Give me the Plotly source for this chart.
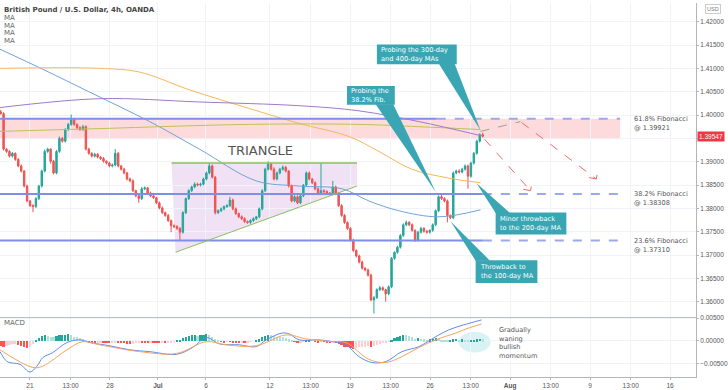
import plotly.graph_objects as go

# ---------------- data ----------------
# 4h closes (GBP/USD), first bar ~Jun 17, last bar Jul 29
closes = [
    1.4003, 1.3927, 1.3922, 1.3912, 1.3918, 1.3905, 1.3891, 1.3880, 1.3848, 1.3816,
    1.3806, 1.3804, 1.3821, 1.3848, 1.3880, 1.3922, 1.3927, 1.3901, 1.3876, 1.3922,
    1.3950, 1.3944, 1.3969, 1.3980, 1.3990, 1.3980, 1.3973, 1.3969, 1.3975, 1.3927,
    1.3918, 1.3912, 1.3916, 1.3910, 1.3907, 1.3901, 1.3897, 1.3891, 1.3893, 1.3918,
    1.3891, 1.3884, 1.3876, 1.3863, 1.3859, 1.3838, 1.3827, 1.3821, 1.3842, 1.3844,
    1.3833, 1.3827, 1.3823, 1.3812, 1.3801, 1.3791, 1.3785, 1.3774, 1.3763, 1.3761,
    1.3757, 1.3749, 1.3791, 1.3821, 1.3838, 1.3846, 1.3852, 1.3850, 1.3852, 1.3863,
    1.3876, 1.3891, 1.3867, 1.3791, 1.3795, 1.3799, 1.3804, 1.3806, 1.3818, 1.3799,
    1.3789, 1.3782, 1.3778, 1.3772, 1.3770, 1.3774, 1.3778, 1.3782, 1.3799, 1.3838,
    1.3884, 1.3895, 1.3884, 1.3863, 1.3876, 1.3884, 1.3888, 1.3880, 1.3848, 1.3816,
    1.3825, 1.3812, 1.3827, 1.3850, 1.3876, 1.3863, 1.3855, 1.3842, 1.3833, 1.3838,
    1.3836, 1.3833, 1.3831, 1.3846, 1.3833, 1.3806, 1.3785, 1.3770, 1.3757, 1.3732,
    1.3710, 1.3698, 1.3685, 1.3672, 1.3668, 1.3657, 1.3604, 1.3609, 1.3626, 1.3630,
    1.3626, 1.3617, 1.3632, 1.3693, 1.3706, 1.3717, 1.3742, 1.3765, 1.3770, 1.3765,
    1.3753, 1.3732, 1.3749, 1.3757, 1.3751, 1.3749, 1.3753, 1.3765, 1.3795, 1.3825,
    1.3821, 1.3816, 1.3785, 1.3780, 1.3876, 1.3880, 1.3878, 1.3884, 1.3891, 1.3869,
    1.3897, 1.3918, 1.3944, 1.3958, 1.39547,
]
first_open = 1.4007
# wick lengths in pips above / below the candle body
wick_up = [
    4, 3, 2, 3, 3, 2, 3, 3, 2, 3,   2, 3, 3, 2, 3, 4, 3, 2, 3, 3,
    4, 3, 3, 3, 11, 3, 2, 3, 4, 3,  3, 2, 3, 3, 2, 3, 2, 3, 3, 9,
    3, 2, 3, 2, 3, 3, 2, 3, 4, 3,   2, 3, 3, 2, 3, 3, 2, 3, 2, 3,
    3, 3, 3, 2, 3, 3, 4, 3, 3, 3,   3, 6, 3, 2, 3, 3, 2, 3, 7, 3,
    3, 2, 3, 3, 2, 3, 3, 2, 3, 3,   3, 6, 3, 4, 3, 3, 4, 3, 2, 3,
    3, 3, 3, 2, 3, 3, 2, 3, 3, 59,  3, 3, 2, 13, 3, 2, 3, 3, 2, 3,
    3, 2, 3, 3, 2, 3, 3, 3, 3, 4,   3, 2, 3, 3, 2, 3, 3, 3, 4, 3,
    3, 2, 3, 4, 3, 3, 2, 3, 3, 3,   4, 3, 3, 2, 3, 3, 4, 3, 3, 3,
    3, 3, 3, 3, 4,
]
wick_dn = [
    2, 3, 3, 3, 3, 3, 3, 3, 3, 3,   3, 12, 3, 3, 3, 3, 3, 5, 3, 3,
    3, 3, 3, 3, 3, 3, 3, 3, 3, 3,   3, 3, 3, 3, 3, 3, 3, 3, 3, 3,
    3, 3, 3, 3, 3, 3, 3, 9, 3, 3,   3, 3, 3, 3, 3, 3, 3, 3, 14, 3,
    3, 17, 3, 3, 3, 3, 3, 3, 3, 3,  3, 3, 3, 4, 3, 3, 3, 3, 3, 3,
    3, 3, 3, 3, 3, 3, 3, 3, 3, 3,   3, 3, 3, 3, 3, 3, 3, 3, 3, 3,
    3, 3, 3, 3, 3, 3, 3, 3, 3, 3,   3, 3, 3, 3, 3, 3, 3, 3, 3, 3,
    3, 3, 3, 3, 3, 3, 3, 29, 3, 3,  3, 17, 3, 3, 3, 3, 3, 3, 3, 3,
    3, 4, 3, 3, 3, 3, 3, 3, 3, 3,   3, 3, 15, 3, 3, 3, 3, 3, 3, 27,
    3, 3, 3, 3, 3,
]
macd_hist = [
    -0.0010, -0.0012, -0.0011, -0.0009, -0.0007, -0.0006, -0.0008, -0.0011, -0.0014, -0.0016,
    -0.0013, -0.0007, 0.0002, 0.0007, 0.0011, 0.0013, 0.0012, 0.0010, 0.0009, 0.0011,
    0.0013, 0.0014, 0.0014, 0.0015, 0.0013, 0.0010, 0.0008, 0.0006, 0.0004, 0.0001,
    -0.0002, -0.0004, -0.0005, -0.0004, -0.0003, -0.0003, -0.0004, -0.0005, -0.0004, -0.0002,
    -0.0002, -0.0004, -0.0005, -0.0006, -0.0007, -0.0006, -0.0004, -0.0002, -0.0002, -0.0003,
    -0.0004, -0.0003, -0.0004, -0.0005, -0.0005, -0.0004, -0.0005, -0.0004, -0.0002, -0.0001,
    0.0002, 0.0003, 0.0007, 0.0010, 0.0012, 0.0013, 0.0014, 0.0012, 0.0013, 0.0014,
    0.0015, 0.0013, 0.0008, 0.0004, 0.0001, -0.0001, -0.0002, -0.0001, -0.0001, -0.0002,
    -0.0003, -0.0004, -0.0003, -0.0003, -0.0002, -0.0001, 0.0000, 0.0001, 0.0004, 0.0008,
    0.0012, 0.0014, 0.0013, 0.0011, 0.0010, 0.0009, 0.0008, 0.0006, 0.0004, 0.0001,
    -0.0001, -0.0003, -0.0002, -0.0001, 0.0001, 0.0001, 0.0000, -0.0001, -0.0002, -0.0001,
    -0.0001, -0.0002, -0.0002, -0.0001, -0.0003, -0.0006, -0.0009, -0.0012, -0.0014, -0.0016,
    -0.0017, -0.0016, -0.0014, -0.0013, -0.0012, -0.0011, -0.0013, -0.0011, -0.0009, -0.0007,
    -0.0005, -0.0003, -0.0001, 0.0003, 0.0006, 0.0009, 0.0012, 0.0014, 0.0013, 0.0011,
    0.0008, 0.0005, 0.0006, 0.0005, 0.0004, 0.0003, 0.0004, 0.0005, 0.0006, 0.0005,
    0.0003, 0.0002, 0.0001, 0.0001, 0.0004, 0.0005, 0.0003, 0.0004, 0.0003, 0.0001,
    0.0002, 0.0003, 0.0004, 0.0005, 0.0004,
]
# bar timeline in trading days (0 = Mon Jun 21)
first_bar_day = -1.83
last_bar_day = 28.29

# MACD line / signal line (trading-day, value)
macd_days = [-1.87, -1.43, -0.62, 0, 0.44, 0.81, 1.43, 2.31, 3.12, 3.74, 4.98, 6.23, 7.48, 9.16,
             10.16, 11.03, 11.84, 13.08, 14.14, 14.77, 15.76, 16.20, 16.82, 18.07, 18.88, 19.75,
             20.56, 21.37, 22.24, 23.24, 24.30, 25.36, 26.17, 27.10, 28.22]
macd_vals = [-0.0024, -0.0046, -0.0052, -0.0069, -0.0056, -0.0037, -0.0026, -0.0004, 0.0002, -0.0004,
             -0.0011, -0.0020, -0.0024, -0.0030, -0.0015, 0.0007, -0.0007, -0.0009, -0.0013, 0.0002,
             0.0017, 0.0015, 0.0002, 0.0002, -0.0002, -0.0009, -0.0035, -0.0048, -0.0046, -0.0024,
             -0.0013, 0.0009, 0.0024, 0.0035, 0.0046]
signal_days = [-1.87, 0.19, 0.81, 2.31, 3.30, 4.36, 6.85, 9.16, 11.03, 12.27, 14.14, 16.01, 17.26,
               18.88, 19.75, 21.18, 22.24, 23.24, 24.30, 25.36, 26.60, 27.41, 28.22]
signal_vals = [-0.0020, -0.0059, -0.0056, -0.0020, -0.0002, -0.0009, -0.0024, -0.0028, -0.0002,
               -0.0009, -0.0011, 0.0013, 0.0004, -0.0002, -0.0004, -0.0041, -0.0048, -0.0035,
               -0.0015, 0.0002, 0.0017, 0.0028, 0.0037]

# moving averages (trading-day, price)
ma100_days = [-1.87, 0.93, 3.68, 7.48, 10.59, 14.14, 16.82, 19.50, 21.18, 23.05, 25.55, 28.16]
ma100_vals = [1.4141, 1.4096, 1.4050, 1.3986, 1.3927, 1.3859, 1.3848, 1.3842, 1.3816, 1.3795, 1.3782, 1.3797]
ma200_days = [-1.87, 4.36, 6.85, 9.97, 13.71, 16.82, 19.94, 21.81, 23.86, 26.17, 28.16]
ma200_vals = [1.4100, 1.4100, 1.4092, 1.4054, 1.4014, 1.3982, 1.3954, 1.3922, 1.3884, 1.3865, 1.3855]
ma300_days = [-1.87, 4.36, 13.71, 20.56, 24.30, 28.16]
ma300_vals = [1.3965, 1.3971, 1.3980, 1.3980, 1.3975, 1.3969]
ma400_days = [-1.87, 4.36, 10.59, 16.82, 20.56, 24.30, 28.16]
ma400_vals = [1.4016, 1.4035, 1.4028, 1.4020, 1.4009, 1.3986, 1.3956]

fib_levels = [1.39921, 1.38308, 1.37310]
fib_names = ["61.8% Fibonacci", "38.2% Fibonacci", "23.6% Fibonacci"]
zone_low = 1.3948
last_price = 1.39547

x_tick_days = [0, 2.54, 5, 8, 11, 15, 17.54, 20, 22.54, 25, 27.54, 30, 32.54, 35, 37.54, 40]
x_tick_text = ["21", "13:00", "28", "<b>Jul</b>", "6", "12", "13:00", "19", "13:00", "26",
               "13:00", "<b>Aug</b>", "13:00", "9", "13:00", "16"]
price_ticks = [1.36, 1.365, 1.37, 1.375, 1.38, 1.385, 1.39, 1.395, 1.40, 1.405, 1.41, 1.415, 1.42]
macd_ticks = [-0.005, 0.0, 0.005]

# ---------------- build ----------------
n = len(closes)
step = (last_bar_day - first_bar_day) / (n - 1)
bar_x = [first_bar_day + i * step for i in range(n)]
opens = [first_open] + closes[:-1]
highs = [max(o, c) + u * 1e-4 for o, c, u in zip(opens, closes, wick_up)]
lows = [min(o, c) - d * 1e-4 for o, c, d in zip(opens, closes, wick_dn)]

GREEN = "#26A69A"
RED = "#EF5350"
FIBC = "#7F8FE6"
TEAL = "#3AA6B4"

X0, X1 = -1.87, 41.62
Y0, Y1 = 1.3566, 1.4240
M0, M1 = -0.0080, 0.0051

fig = go.Figure()

fig.add_trace(go.Candlestick(
    x=bar_x, open=opens, high=highs, low=lows, close=closes,
    increasing=dict(line=dict(color=GREEN, width=1), fillcolor=GREEN),
    decreasing=dict(line=dict(color=RED, width=1), fillcolor=RED),
    whiskerwidth=0, xaxis="x", yaxis="y", hoverinfo="skip"))

for dd, vv, col in [(ma100_days, ma100_vals, "#6FA3D9"), (ma200_days, ma200_vals, "#F5B75A"),
                    (ma300_days, ma300_vals, "#B9C457"), (ma400_days, ma400_vals, "#A178C9")]:
    fig.add_trace(go.Scatter(x=dd, y=vv, mode="lines", line=dict(color=col, width=1, shape="spline"),
                             xaxis="x", yaxis="y", hoverinfo="skip"))

# MACD histogram colours (TradingView style: rising/falling)
hcols = []
for i, h in enumerate(macd_hist):
    prev = macd_hist[i - 1] if i > 0 else h
    if h >= 0:
        hcols.append("#26A69A" if h >= prev else "#B2DFDB")
    else:
        hcols.append("#FF5252" if h <= prev else "#FFCDD2")
fig.add_trace(go.Bar(x=bar_x, y=macd_hist, marker=dict(color=hcols, line=dict(width=0)),
                     width=step * 0.75, xaxis="x", yaxis="y2", hoverinfo="skip"))
fig.add_trace(go.Scatter(x=macd_days, y=macd_vals, mode="lines",
                         line=dict(color="#5B8DEF", width=1, shape="spline"), xaxis="x", yaxis="y2"))
fig.add_trace(go.Scatter(x=signal_days, y=signal_vals, mode="lines",
                         line=dict(color="#F7A35C", width=1, shape="spline"), xaxis="x", yaxis="y2"))

shapes = []
# pink resistance zone
shapes.append(dict(type="rect", xref="x", yref="y", x0=X0, x1=36.88, y0=zone_low, y1=fib_levels[0],
                   fillcolor="rgba(242,54,69,0.18)", line=dict(width=0), layer="below"))
# fib lines: solid part then dashed
solid_end = [25.42, 28.3, 28.3]
for lvl, se in zip(fib_levels, solid_end):
    shapes.append(dict(type="line", xref="x", yref="y", x0=X0, x1=se, y0=lvl, y1=lvl,
                       line=dict(color=FIBC, width=2)))
    shapes.append(dict(type="line", xref="x", yref="y", x0=se, x1=36.88, y0=lvl, y1=lvl,
                       line=dict(color="#9DA8E8", width=2, dash="dash")))
# triangle
tri = (8.85, 1.3897, 20.44, 1.3848, 9.10, 1.3706)
shapes.append(dict(type="path", xref="x", yref="y",
                   path=f"M {tri[0]},{tri[1]} L {tri[2]},{tri[1]} L {tri[2]},{tri[3]} L {tri[4]},{tri[5]} Z",
                   fillcolor="rgba(186,104,200,0.20)", line=dict(width=0), layer="below"))
shapes.append(dict(type="line", xref="x", yref="y", x0=tri[0], x1=tri[2], y0=tri[1], y1=tri[1],
                   line=dict(color="#8BBF5C", width=1.5)))
shapes.append(dict(type="line", xref="x", yref="y", x0=tri[4], x1=tri[2], y0=tri[5], y1=tri[3],
                   line=dict(color="#8BBF5C", width=1)))
# projection paths
shapes.append(dict(type="line", xref="x", yref="y", x0=28.16, y0=1.3965, x1=30.65, y1=1.3986,
                   line=dict(color="#9AA08A", width=1, dash="dash")))
shapes.append(dict(type="line", xref="x", yref="y", x0=30.72, y0=1.3984, x1=35.39, y1=1.3863,
                   line=dict(color="#F06A6A", width=1, dash="dash")))
shapes.append(dict(type="line", xref="x", yref="y", x0=28.41, y0=1.3948, x1=31.28, y1=1.3838,
                   line=dict(color="#F06A6A", width=1, dash="dash")))
for tx, ty in [(35.39, 1.3863), (31.28, 1.3838)]:
    shapes.append(dict(type="path", xref="x", yref="y",
                       path=f"M {tx-0.45},{ty+0.0003} L {tx},{ty} L {tx+0.05},{ty+0.0009}",
                       line=dict(color="#F06A6A", width=1)))
# MACD highlight ellipse
shapes.append(dict(type="circle", xref="x", yref="y2", x0=26.79, x1=28.79, y0=-0.0026, y1=0.0020,
                   fillcolor="rgba(80,200,210,0.22)", line=dict(width=0), layer="below"))
# pane divider
shapes.append(dict(type="line", xref="paper", yref="paper", x0=0, x1=1, y0=0.1587, y1=0.1587,
                   line=dict(color="#B2B5BE", width=1)))

annotations = []

def callout(bx0, bx1, by0, by1, base, tip, text):
    shapes.append(dict(type="rect", xref="x", yref="y", x0=bx0, x1=bx1, y0=by0, y1=by1,
                       fillcolor=TEAL, line=dict(width=0)))
    (ax, ay), (bxp, byp) = base
    shapes.append(dict(type="path", xref="x", yref="y",
                       path=f"M {ax},{ay} L {bxp},{byp} L {tip[0]},{tip[1]} Z",
                       fillcolor=TEAL, line=dict(width=0)))
    annotations.append(dict(x=bx0 + 0.22, y=(by0 + by1) / 2, xref="x", yref="y", text=text,
                            showarrow=False, xanchor="left", yanchor="middle", align="left",
                            borderpad=0,
                            font=dict(family="DejaVu Sans", size=6.6, color="white")))

callout(21.68, 26.67, 1.4109, 1.4151, ((25.55, 1.4110), (26.54, 1.4110)), (28.16, 1.3967),
        "Probing the 300-day<br>and 400-day MAs")
callout(19.81, 22.80, 1.4022, 1.4062, ((21.60, 1.4023), (22.70, 1.4023)), (25.36, 1.3835),
        "Probing the<br>38.2% Fib.")
callout(29.10, 33.52, 1.3744, 1.3791, ((29.10, 1.3790), (30.00, 1.3790)), (27.91, 1.3854),
        "Minor throwback<br>to the 200-day MA")
callout(27.85, 31.71, 1.3640, 1.3689, ((27.85, 1.3688), (28.75, 1.3688)), (26.29, 1.3772),
        "Throwback to<br>the 100-day MA")

for lvl, name in zip(fib_levels, fib_names):
    annotations.append(dict(x=37.7, y=lvl, xref="x", yref="y", text=f"{name}<br>@ {lvl:.5f}",
                            showarrow=False, xanchor="left", yanchor="top", yshift=5, align="left",
                            borderpad=0,
                            font=dict(family="DejaVu Sans", size=6.6, color="#555")))

annotations.append(dict(x=14.39, y=1.3924, xref="x", yref="y", text="TRIANGLE", showarrow=False,
                        font=dict(family="DejaVu Sans", size=13, color="#555")))
annotations.append(dict(x=0.005, y=1 - 7 / 378, xref="paper", yref="paper", showarrow=False,
                        text="<b>British Pound / U.S. Dollar, 4h, OANDA</b>", xanchor="left",
                        yanchor="middle", borderpad=0,
                        font=dict(family="DejaVu Sans", size=7, color="#444")))
for k in range(4):
    annotations.append(dict(x=0.005, y=1 - (15 + 7.8 * k) / 378, xref="paper", yref="paper",
                            showarrow=False, text="MA", xanchor="left", yanchor="middle",
                            borderpad=0,
                            font=dict(family="DejaVu Sans", size=7, color="#666")))
annotations.append(dict(x=0.005, y=1 - 323 / 378, xref="paper", yref="paper", showarrow=False,
                        text="MACD", xanchor="left", yanchor="middle", borderpad=0,
                        font=dict(family="DejaVu Sans", size=7, color="#666")))
annotations.append(dict(x=29.22, y=0.0034, xref="x", yref="y2", showarrow=False,
                        text="Gradually<br>waning<br>bullish<br>momentum", xanchor="left",
                        yanchor="top", align="left", borderpad=0,
                        font=dict(family="DejaVu Sans", size=6.6, color="#555")))
annotations.append(dict(x=1.0, y=last_price, xref="paper", yref="y", showarrow=False,
                        text=f"{last_price:.5f}", xanchor="left", xshift=1, bgcolor="#F23645",
                        borderpad=1,
                        font=dict(family="Liberation Sans", size=6.5, color="white")))
annotations.append(dict(x=1.0, y=1 - 6 / 378, xref="paper", yref="paper", showarrow=False,
                        text="USD", xanchor="left", yanchor="middle", xshift=9,
                        bordercolor="#CCCCCC", borderwidth=1,
                        borderpad=1, font=dict(family="Liberation Sans", size=5.5, color="#777")))

axis_font = dict(family="Liberation Sans", size=6.5, color="#555")
# the 1.39500 label is hidden behind the live-price tag, as in TradingView
price_tick_text = ["" if abs(p - 1.395) < 1e-9 else f"{p:.5f}" for p in price_ticks]
fig.update_layout(
    width=728, height=390, margin=dict(l=0, r=30, t=0, b=12),
    plot_bgcolor="white", paper_bgcolor="white", showlegend=False, bargap=0,
    xaxis=dict(domain=[0, 1], range=[X0, X1], anchor="y2", tickvals=x_tick_days, ticktext=x_tick_text,
               showgrid=True, gridcolor="#F0F3FA", tickfont=axis_font, ticks="outside", ticklen=2,
               tickcolor="#B2B5BE", showline=True, linecolor="#B2B5BE", zeroline=False,
               rangeslider=dict(visible=False), fixedrange=True),
    yaxis=dict(domain=[0.1587, 1], range=[Y0, Y1], side="right", anchor="x", tickvals=price_ticks,
               ticktext=price_tick_text, showgrid=True, gridcolor="#F0F3FA",
               tickfont=axis_font, ticks="outside", ticklen=2, tickcolor="#B2B5BE", showline=True,
               linecolor="#B2B5BE", zeroline=False, fixedrange=True),
    yaxis2=dict(domain=[0, 0.1587], range=[M0, M1], side="right", anchor="x", tickvals=macd_ticks,
                ticktext=["\u22120.00500", "0.00000", "0.00500"], showgrid=True, gridcolor="#F0F3FA",
                tickfont=axis_font, ticks="outside", ticklen=2, tickcolor="#B2B5BE", showline=True,
                linecolor="#B2B5BE", zeroline=False, fixedrange=True),
    shapes=shapes, annotations=annotations,
)

fig.write_html("out.html", config={"displayModeBar": False},
               post_script="document.body.style.margin='0';document.body.style.overflow='hidden';")
